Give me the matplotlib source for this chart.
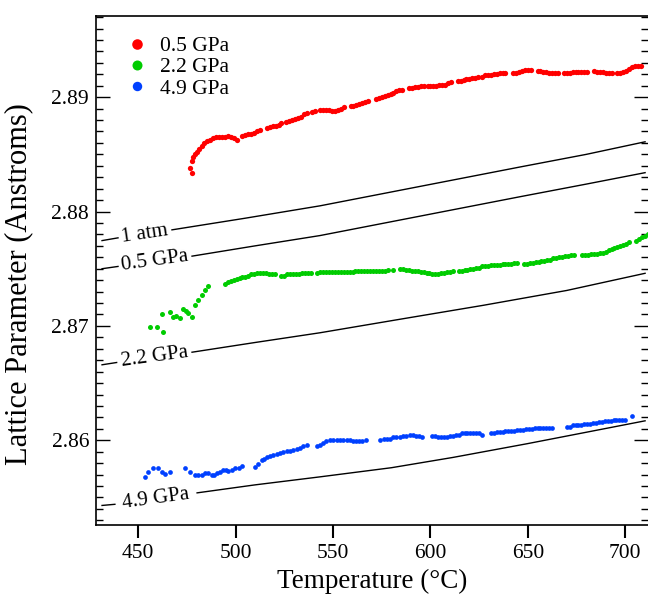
import numpy as np
import matplotlib
matplotlib.use("Agg")
import matplotlib.pyplot as plt
from matplotlib.ticker import MultipleLocator, FormatStrFormatter

plt.rcParams['font.family'] = ['Liberation Serif', 'DejaVu Serif']

# measured lattice parameter, 0.5 GPa run
t_05 = [477.4, 476.6, 477.4, 478.3, 479.2, 480.0, 481.3, 482.6, 484.0, 485.1,
        487.0, 488.5, 490.0, 491.5, 493.0, 494.5, 496.0, 497.5, 499.0, 500.5,
        503.5, 505.0, 506.5, 508.0, 509.5, 511.0, 512.5,
        516.0, 517.5, 519.0, 520.5, 522.0, 523.5,
        526.0, 527.5, 529.0, 530.5, 532.0, 533.5, 535.0, 536.5,
        539.0, 540.5,
        543.5, 545.0, 546.5, 548.0, 549.5, 551.0, 552.5, 554.0, 555.5,
        559.0, 560.5, 562.0, 563.5, 565.0, 566.5, 568.0,
        572.0, 573.5, 575.0, 576.5, 578.0, 579.5, 581.0, 582.5, 584.0, 585.5,
        589.0, 590.5, 592.0, 593.5, 595.0, 596.5,
        598.5, 600.0, 601.5, 603.0, 604.5, 606.0, 607.5, 609.0, 610.5,
        614.0, 615.5, 617.0, 618.5, 620.0, 621.5, 623.0, 624.5,
        626.5, 628.0, 629.5, 631.0, 632.5, 634.0, 635.5, 637.0, 638.5,
        642.5, 644.0, 645.5, 647.0, 648.5, 650.0, 651.5,
        655.0, 656.5, 658.0, 659.5, 661.0, 662.5, 664.0, 665.5,
        668.5, 670.0, 671.5, 673.0, 674.5, 676.0, 677.5, 679.0, 680.5,
        684.0, 685.5, 687.0, 688.5, 690.0, 691.5, 693.0,
        696.0, 697.5, 699.0, 700.5, 702.0, 703.5, 705.0, 706.5, 708.0]
a_05 = [2.8834, 2.8838, 2.8844, 2.8848, 2.8850, 2.8852, 2.8855, 2.8857, 2.8860, 2.8862,
        2.8863, 2.8864, 2.8865, 2.88655, 2.8865, 2.88655, 2.8866, 2.8865, 2.88645, 2.8863,
        2.8866, 2.8867, 2.88675, 2.8868, 2.8869, 2.8870, 2.8871,
        2.8873, 2.8874, 2.8875, 2.8875, 2.8876, 2.8877,
        2.8878, 2.8879, 2.8880, 2.8881, 2.8882, 2.8883, 2.8885, 2.8886,
        2.8887, 2.8888,
        2.8889, 2.8889, 2.8889, 2.8889, 2.8888, 2.8888, 2.8889, 2.8890, 2.8891,
        2.8892, 2.8892, 2.8893, 2.8894, 2.8895, 2.8896, 2.8897,
        2.8898, 2.8899, 2.8900, 2.8901, 2.8902, 2.8903, 2.8904, 2.8905, 2.8906, 2.8906,
        2.8908, 2.8908, 2.8909, 2.8909, 2.8910, 2.8910,
        2.8910, 2.8910, 2.8910, 2.8910, 2.8911, 2.8911, 2.8911, 2.8912, 2.8913,
        2.8914, 2.8914, 2.8915, 2.8916, 2.8916, 2.8917, 2.8917, 2.8918,
        2.8918, 2.8919, 2.8919, 2.8919, 2.8920, 2.8920, 2.8921, 2.8921, 2.8921,
        2.8921, 2.8921, 2.8922, 2.8923, 2.8924, 2.8924, 2.8924,
        2.8923, 2.8923, 2.8922, 2.8922, 2.8921, 2.8921, 2.8921, 2.8921,
        2.8921, 2.8921, 2.8921, 2.8922, 2.8922, 2.8922, 2.8922, 2.8922, 2.8922,
        2.8923, 2.8922, 2.8922, 2.8922, 2.8921, 2.8921, 2.8921,
        2.8921, 2.8921, 2.8922, 2.8923, 2.8925, 2.8926, 2.8927, 2.8927, 2.8927]

# 2.2 GPa run
t_22 = [456.1, 459.5, 462.8, 462.0, 466.3, 468.0, 469.5, 471.4, 473.1, 474.4,
        475.7, 477.4, 479.1, 480.8, 482.6, 484.3, 486.0,
        494.5, 496.0, 497.5, 499.0, 500.5, 502.0, 503.5, 505.0, 506.5, 508.0,
        509.5, 511.0, 512.5, 514.0, 515.5, 517.0, 518.5, 520.0,
        523.5, 525.0, 526.5, 528.0, 529.5, 531.0, 532.5, 534.0, 535.5, 537.0, 538.5,
        542.0, 543.5, 545.0, 546.5, 548.0, 549.5, 551.0, 552.5, 554.0, 555.5,
        557.0, 558.5, 560.0, 561.5, 563.0, 564.5, 566.0, 567.5, 569.0, 570.5,
        572.0, 573.5, 575.0, 576.5, 578.0,
        581.0,
        584.5, 586.0, 587.5, 589.0, 590.5, 592.0, 593.5, 595.0, 596.5, 598.0,
        599.5, 601.0, 602.5, 604.0, 605.5, 607.0, 608.5, 610.0, 611.5,
        614.5, 616.0, 617.5, 619.0, 620.5, 622.0, 623.5, 625.0, 626.5, 628.0,
        629.5, 631.0, 632.5, 634.0, 635.5, 637.0, 638.5, 640.0, 641.5, 643.0, 644.5,
        648.0, 649.5, 651.0, 652.5, 654.0, 655.5, 657.0, 658.5, 660.0, 661.5,
        663.0, 664.5, 666.0, 667.5, 669.0, 670.5, 672.0, 673.5,
        678.0, 679.5, 681.0, 682.5, 684.0, 685.5, 687.0, 688.5, 690.0, 691.5,
        693.0, 694.5, 696.0, 697.5, 699.0, 700.5, 702.0,
        705.5, 707.0, 708.5, 710.0, 711.5]
a_22 = [2.8699, 2.8699, 2.86945, 2.8710, 2.87125, 2.8708, 2.8709, 2.87067, 2.87146, 2.8713,
        2.87111, 2.87081, 2.87184, 2.87228, 2.87271, 2.87315, 2.87353,
        2.8737, 2.8738, 2.8739, 2.8740, 2.8741, 2.8742, 2.8743, 2.8743, 2.8744, 2.8745,
        2.8745, 2.8746, 2.8746, 2.8746, 2.8746, 2.8745, 2.8745, 2.8745,
        2.8744, 2.8744, 2.8745, 2.8745, 2.8745, 2.8745, 2.8745, 2.8746, 2.8746, 2.8746, 2.8746,
        2.8746, 2.8747, 2.8747, 2.8747, 2.8747, 2.8747, 2.8747, 2.8747, 2.8747, 2.8747,
        2.8747, 2.8747, 2.8747, 2.8748, 2.8748, 2.8748, 2.8748, 2.8748, 2.8748, 2.8748,
        2.8748, 2.8748, 2.8748, 2.8748, 2.8749,
        2.8749,
        2.8750, 2.8750, 2.8749, 2.8749, 2.8748, 2.8748, 2.8748, 2.8747, 2.8747, 2.8746,
        2.8746, 2.8745, 2.8745, 2.8745, 2.8746, 2.8746, 2.8747, 2.8747, 2.8748,
        2.8748, 2.8748, 2.8749, 2.8749, 2.8750, 2.8750, 2.8751, 2.8751, 2.8752, 2.8752,
        2.8752, 2.8753, 2.8753, 2.8753, 2.8753, 2.8754, 2.8754, 2.8754, 2.8754, 2.8755, 2.8755,
        2.8754, 2.8754, 2.8755, 2.8755, 2.8756, 2.8756, 2.8757, 2.8757, 2.8758, 2.8758,
        2.8759, 2.8759, 2.8760, 2.8760, 2.8761, 2.8761, 2.8762, 2.8762,
        2.8762, 2.8762, 2.8762, 2.8763, 2.8763, 2.8763, 2.8764, 2.8764, 2.8765, 2.8766,
        2.8767, 2.8768, 2.8769, 2.8770, 2.8771, 2.8772, 2.8773,
        2.8774, 2.8776, 2.8778, 2.8779, 2.8780]

# 4.9 GPa run
t_49 = [453.4, 455.1, 457.7, 460.3, 462.0, 463.7, 466.3,
        474.0, 476.6, 479.1, 480.8, 482.6, 484.3, 486.0, 487.7, 489.0, 490.3,
        492.0, 493.7, 495.0, 496.2, 498.0, 499.7, 501.5, 503.1,
        510.0, 511.5, 513.4, 514.7, 516.0, 517.7, 519.3, 521.0, 522.8, 524.5,
        526.2, 528.0, 529.6, 531.4, 533.1, 534.8, 536.5,
        542.0, 543.5, 545.0, 546.5, 548.5, 550.0, 552.0, 553.5, 555.3, 557.0,
        558.5, 560.0, 562.0, 563.5, 565.0, 567.0,
        574.2, 576.0, 577.5, 579.3, 581.0, 582.5, 584.4, 586.0, 587.5, 589.3,
        591.0, 592.5, 594.0, 595.6,
        601.0, 602.5, 604.0, 605.5, 607.0, 608.5, 610.0, 611.5, 613.0, 614.5,
        616.0, 617.5, 619.0, 620.5, 622.0, 623.5, 625.0, 626.5,
        631.0, 632.5, 634.0, 635.5, 637.0, 638.5, 640.0, 641.5, 643.0, 644.5,
        646.0, 647.5, 649.0, 650.5, 652.0, 653.5, 655.0, 656.5, 658.0, 659.5,
        661.0, 662.5,
        670.0, 671.5, 673.0, 674.5, 676.0, 677.5, 679.0, 680.5, 682.0, 683.5,
        685.0, 686.5, 688.0, 689.5, 691.0, 692.5, 694.0, 695.5, 697.0, 698.5,
        700.0, 703.5]
a_49 = [2.8568, 2.85725, 2.85755, 2.8576, 2.85725, 2.85705, 2.85725,
        2.85755, 2.85725, 2.85696, 2.8570, 2.85696, 2.85717, 2.8571, 2.85696, 2.8570, 2.85711,
        2.8572, 2.8574, 2.8574, 2.85731, 2.8574, 2.85755, 2.8576, 2.85775,
        2.85769, 2.8579, 2.85828, 2.8584, 2.85857, 2.8586, 2.85871, 2.8588, 2.85892, 2.8590,
        2.85909, 2.8591, 2.85915, 2.8592, 2.85935, 2.8595, 2.85959,
        2.8595, 2.8596, 2.8598, 2.8599, 2.8600, 2.8600, 2.8600, 2.8600, 2.8600, 2.8600,
        2.8600, 2.8599, 2.8599, 2.8599, 2.8599, 2.8600,
        2.8600, 2.8601, 2.8601, 2.8601, 2.8603, 2.8603, 2.8603, 2.8604, 2.8604, 2.8605,
        2.8605, 2.8604, 2.8604, 2.8603,
        2.8604, 2.8604, 2.8603, 2.8603, 2.8603, 2.8603, 2.8604, 2.8604, 2.8605, 2.8605,
        2.8606, 2.8606, 2.8606, 2.8606, 2.8606, 2.8606, 2.8606, 2.8605,
        2.8606, 2.8606, 2.8607, 2.8607, 2.8607, 2.8608, 2.8608, 2.8608, 2.8608, 2.8609,
        2.8609, 2.8609, 2.8610, 2.8610, 2.8610, 2.8611, 2.8611, 2.8611, 2.8611, 2.8611,
        2.8611, 2.8611,
        2.8612, 2.8612, 2.8613, 2.8613, 2.8613, 2.8613, 2.8614, 2.8614, 2.8614, 2.8615,
        2.8615, 2.8616, 2.8616, 2.8617, 2.8617, 2.8617, 2.8618, 2.8618, 2.8618, 2.8618,
        2.8618, 2.8621]

# calculated curves; the 2nd and 3rd points bound the gap for the label
calc_labels = ['1 atm', '0.5 GPa', '2.2 GPa', '4.9 GPa']
calc_t = [[431.4, 439.6, 467.3, 505.0, 543.3, 594.7, 646.1, 680.0, 710.2],
          [431.4, 439.6, 477.6, 510.0, 543.3, 594.7, 646.1, 680.0, 710.2],
          [431.4, 438.9, 477.6, 510.0, 543.3, 585.0, 627.1, 670.0, 710.2],
          [431.4, 438.0, 480.2, 510.0, 543.3, 580.0, 611.6, 649.7, 680.0, 710.2]]
calc_a = [[2.87746, 2.8777, 2.8784, 2.87942, 2.8805, 2.8822, 2.8839, 2.8850, 2.8861],
          [2.8750, 2.8752, 2.8761, 2.8770, 2.8779, 2.8796, 2.8813, 2.8824, 2.8834],
          [2.8666, 2.8668, 2.8677, 2.86855, 2.8694, 2.8706, 2.8718, 2.8731, 2.8746],
          [2.8543, 2.8544, 2.8554, 2.8561, 2.8568, 2.8576, 2.8585, 2.8597, 2.8607, 2.8617]]

fig = plt.figure(figsize=(6.48, 5.97), dpi=100)
ax = fig.add_axes([96/648, 1 - 525/597, 552/648, 509/597])
ax.set_xlim(428.3, 711.7)
ax.set_ylim(2.85259, 2.8971)

ax.plot(t_05, a_05, 'o', color='#ff0000', ms=3.8, mew=0, label='0.5 GPa')
ax.plot(t_22, a_22, 'o', color='#00cc00', ms=3.6, mew=0, label='2.2 GPa')
ax.plot(t_49, a_49, 'o', color='#0040ff', ms=3.4, mew=0, label='4.9 GPa')

for lab, tt, aa in zip(calc_labels, calc_t, calc_a):
    ax.plot(tt[:2], aa[:2], color='k', lw=1.0)
    ax.plot(tt[2:], aa[2:], color='k', lw=1.0)
    p0 = ax.transData.transform((tt[1], aa[1]))
    p1 = ax.transData.transform((tt[2], aa[2]))
    ang = np.degrees(np.arctan2(p1[1] - p0[1], p1[0] - p0[0]))
    ax.text((tt[1] + tt[2]) / 2, (aa[1] + aa[2]) / 2, lab, fontsize=15,
            rotation=ang, rotation_mode='anchor', ha='center', va='center')

ax.xaxis.set_major_locator(MultipleLocator(50))
ax.yaxis.set_major_locator(MultipleLocator(0.01))
ax.yaxis.set_minor_locator(MultipleLocator(0.001))
ax.yaxis.set_major_formatter(FormatStrFormatter('%.2f'))

ax.tick_params(axis='x', direction='out', length=9, width=1.5, labelsize=15.5, pad=5)
ax.tick_params(axis='y', which='both', direction='in', left=True, right=True,
               labelsize=15.5, pad=5, width=1.0)
ax.tick_params(axis='y', which='major', length=10)
ax.tick_params(axis='y', which='minor', length=5)
ax.spines['right'].set_visible(False)
for s in ['left', 'bottom', 'top']:
    ax.spines[s].set_linewidth(1.2)

ax.set_xlabel('Temperature (°C)', fontsize=19.5, labelpad=4)
ax.set_ylabel('Lattice Parameter (Anstroms)', fontsize=22)
ax.yaxis.set_label_coords(-0.114, 0.4725)

ax.legend(loc='upper left', bbox_to_anchor=(0.027, 0.99), frameon=False,
          fontsize=15.5, markerscale=2.0, handlelength=1.0, handletextpad=0.6,
          labelspacing=0.05, borderpad=0.2)

fig.savefig('out.png', dpi=100)
